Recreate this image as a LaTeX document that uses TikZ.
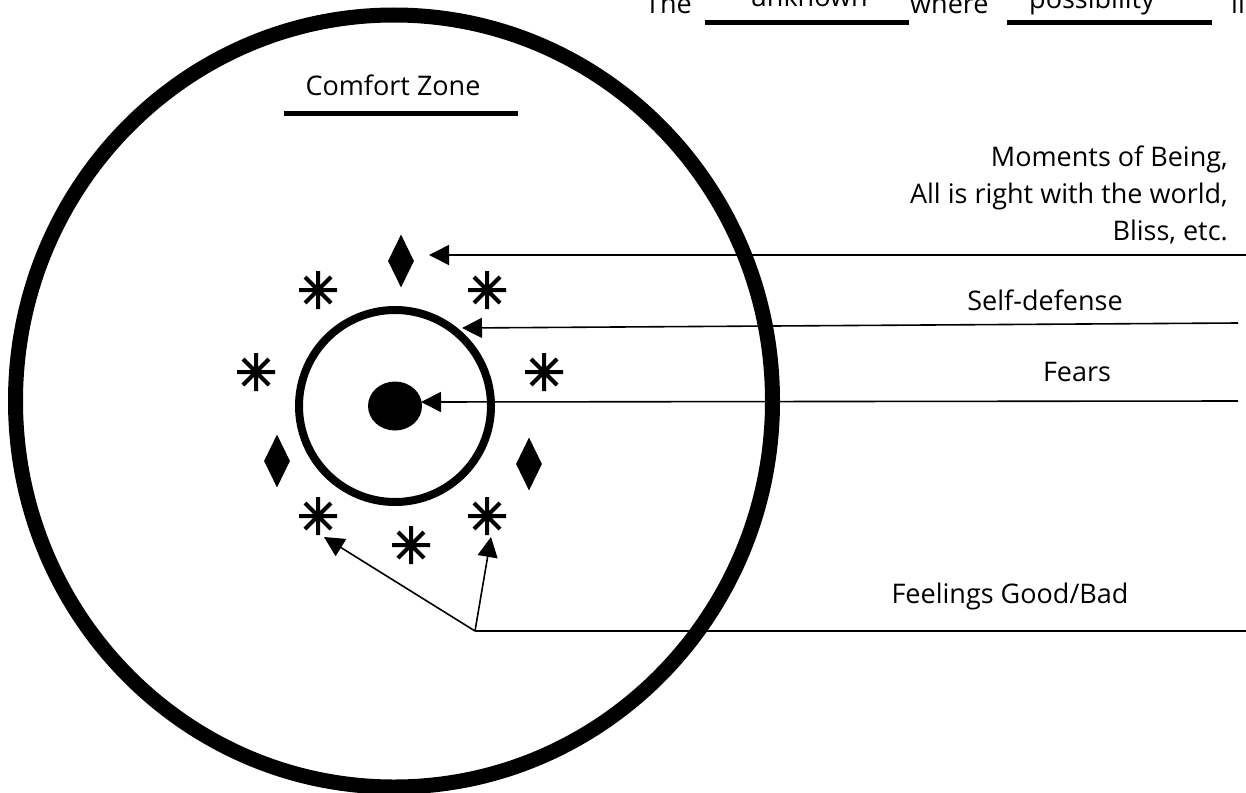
\documentclass[tikz,border=0pt]{standalone}
\usepackage{fontspec}
\setmainfont{Open Sans}
\usetikzlibrary{arrows.meta,shapes.geometric}
\tikzset{
  lbl/.style={font=\fontsize{27pt}{37pt}\selectfont, inner sep=0pt},
  diam/.style={diamond, fill=black, draw=none, inner sep=0pt, minimum width=26pt, minimum height=53pt},
  pointer/.style={line width=1.6pt, -{Triangle[length=20pt,width=20pt]}},
  plain/.style={line width=1.6pt},
  bar/.style={line width=5pt},
  aster/.pic={\draw[line width=4pt] (-19,0)--(19,0) (0,-19)--(0,19) (-13,-13)--(13,13) (-13,13)--(13,-13);}
}
\begin{document}
\begin{tikzpicture}[x=1pt,y=-1pt]
\useasboundingbox (0,0) rectangle (1246,792);
\clip (0,0) rectangle (1246,792);
% comfort zone outer ellipse
\draw[line width=15pt] (394,401) ellipse [x radius=378.5pt, y radius=386pt];
% inner circle and core
\draw[line width=8pt] (395,406) circle [radius=96pt];
\node[ellipse, fill=black, inner sep=0pt, minimum width=54pt, minimum height=49pt] (core) at (395,406) {};
% diamonds
\node[diam] (dtop) at (401,261) {};
\node[diam] (dleft) at (277,461) {};
\node[diam] (dright) at (529,464) {};
% asterisks
\pic at (318,290) {aster};
\pic at (487,290) {aster};
\pic at (256,372) {aster};
\pic at (544,372) {aster};
\pic at (318,516) {aster};
\pic at (487,516) {aster};
\pic at (411,545) {aster};
% texts
\node[lbl, anchor=center] (cz) at (393,85) {Comfort Zone};
\coordinate (czl) at (284,113);
\coordinate (czr) at (518,113);
\draw[bar] (czl) -- (czr);
\node[lbl, anchor=east, align=right] (bliss) at (1228,195) {Moments of Being,\\All is right with the world,\\Bliss, etc.};
\node[lbl] (selfdef) at (1045,300) {Self-defense};
\node[lbl] (fears) at (1077,372) {Fears};
\node[lbl] (feel) at (1010,596) {Feelings Good/Bad};
% top line
\node[lbl, anchor=base west] (the) at (645,14) {The};
\node[lbl, anchor=base] (unk) at (809,7) {unknown};
\node[lbl, anchor=base west] (where) at (910,14) {where};
\node[lbl, anchor=base] (poss) at (1092,9) {possibility};
\node[lbl, anchor=base west] (lies) at (1231,14) {lies};
\coordinate (u1l) at (705,23);
\coordinate (u1r) at (909,23);
\coordinate (u2l) at (1007,23);
\coordinate (u2r) at (1212,23);
\draw[bar] (u1l) -- (u1r);
\draw[bar] (u2l) -- (u2r);
% arrows
\coordinate (a1s) at (1246,255);
\coordinate (a1e) at (429,255);
\coordinate (a2s) at (1238,323);
\coordinate (a2e) at (462,328);
\coordinate (a3s) at (1238,401);
\coordinate (a3e) at (421,402);
\coordinate (a4s) at (1246,631);
\coordinate (fork) at (475,631);
\coordinate (t1) at (324,537);
\coordinate (t2) at (491,537);
\draw[pointer] (a1s) -- (a1e);
\draw[pointer] (a2s) -- (a2e);
\draw[pointer] (a3s) -- (a3e);
\draw[plain] (a4s) -- (fork);
\draw[pointer] (fork) -- (t1);
\draw[pointer] (fork) -- (t2);
\end{tikzpicture}
\end{document}
